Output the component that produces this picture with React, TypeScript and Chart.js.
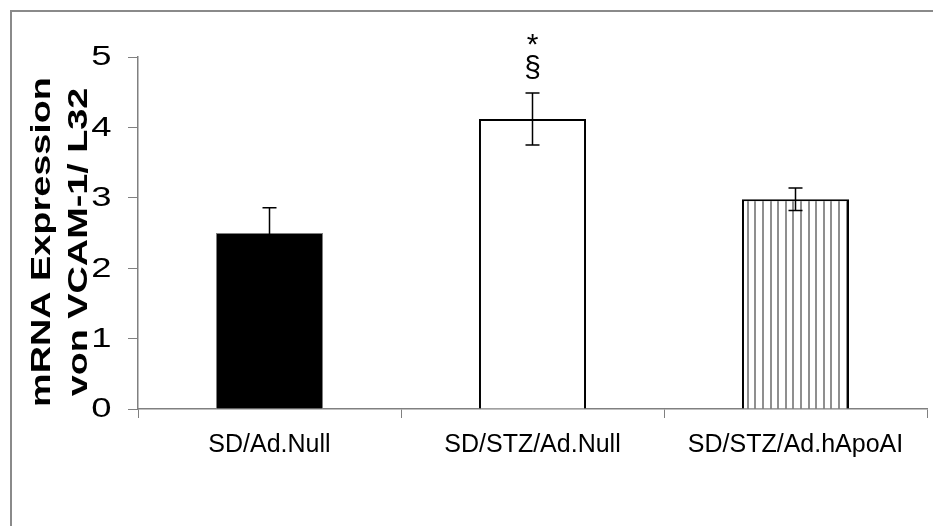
import React, { useEffect, useRef } from "react";
import { Chart, registerables } from "chart.js";

Chart.register(...registerables);

// ---- data ----
const categories = ["SD/Ad.Null", "SD/STZ/Ad.Null", "SD/STZ/Ad.hApoAI"];
const means = [2.5, 4.12, 2.98];
const errors = [0.36, 0.37, 0.16];
const starMarks = ["", "*", ""];
const sectionMarks = ["", "§", ""];
const yTicks = [0, 1, 2, 3, 4, 5];
const titleLines = ["mRNA Expression", "von VCAM-1/ L32"];

const FONT = '"Liberation Sans", Arial, sans-serif';
const AXIS_GRAY = "#808080";

function makeStripePattern(ctx: CanvasRenderingContext2D): CanvasPattern | string {
  const c = document.createElement("canvas");
  c.width = 38;
  c.height = 10;
  const p = c.getContext("2d");
  if (!p) return "#ffffff";
  p.fillStyle = "#ffffff";
  p.fillRect(0, 0, 38, 10);
  p.fillStyle = "#8f8f8f";
  for (let i = 0; i < 5; i++) {
    p.fillRect(Math.round(i * 7.6) + 2, 0, 2, 10);
  }
  const pat = ctx.createPattern(c, "repeat");
  return pat || "#ffffff";
}

const framePlugin = {
  id: "frame",
  beforeDraw(chart: any) {
    const ctx = chart.ctx;
    ctx.save();
    ctx.fillStyle = "#ffffff";
    ctx.fillRect(0, 0, chart.width, chart.height);
    ctx.strokeStyle = "#8a8a8a";
    ctx.lineWidth = 2;
    ctx.strokeRect(11, 11, 3000, 3000);
    ctx.restore();
  },
};

const textPlugin = {
  id: "stretchedText",
  afterDraw(chart: any) {
    const ctx = chart.ctx;
    ctx.save();
    ctx.fillStyle = "#000000";
    // rotated axis title (two lines)
    ctx.font = `bold 28px ${FONT}`;
    ctx.textAlign = "center";
    ctx.textBaseline = "alphabetic";
    const baselines = [50, 86.5];
    titleLines.forEach((t, i) => {
      ctx.save();
      ctx.translate(baselines[i], 242);
      ctx.rotate(-Math.PI / 2);
      ctx.scale(1.35, 1);
      ctx.fillText(t, 0, 0);
      ctx.restore();
    });
    // y tick labels
    const yScale = chart.scales.y;
    ctx.font = `27px ${FONT}`;
    ctx.textAlign = "right";
    ctx.textBaseline = "middle";
    yScale.ticks.forEach((tk: any) => {
      const y = yScale.getPixelForValue(tk.value);
      ctx.save();
      ctx.translate(111.5, y + 1);
      ctx.scale(1.35, 1);
      ctx.fillText(String(tk.value), 0, 0);
      ctx.restore();
    });
    ctx.restore();
  },
};

const errorBarPlugin = {
  id: "errorBars",
  afterDatasetsDraw(chart: any) {
    const ctx = chart.ctx;
    const yScale = chart.scales.y;
    const meta = chart.getDatasetMeta(0);
    ctx.save();
    ctx.strokeStyle = "#000000";
    ctx.lineWidth = 1.5;
    meta.data.forEach((bar: any, i: number) => {
      const x = bar.x;
      const yTop = yScale.getPixelForValue(means[i] + errors[i]);
      const yBot = yScale.getPixelForValue(means[i] - errors[i]);
      ctx.beginPath();
      ctx.moveTo(x, yTop);
      ctx.lineTo(x, yBot);
      ctx.moveTo(x - 7, yTop);
      ctx.lineTo(x + 7, yTop);
      ctx.moveTo(x - 7, yBot);
      ctx.lineTo(x + 7, yBot);
      ctx.stroke();

      ctx.fillStyle = "#000000";
      ctx.textAlign = "center";
      ctx.textBaseline = "alphabetic";
      ctx.font = `30px ${FONT}`;
      const secBase = yTop - 16;
      if (sectionMarks[i]) ctx.fillText(sectionMarks[i], x, secBase);
      if (starMarks[i]) ctx.fillText(starMarks[i], x, secBase - 22.5);
    });
    ctx.restore();
  },
};

export default function App() {
  const canvasRef = useRef<HTMLCanvasElement | null>(null);

  useEffect(() => {
    const canvas = canvasRef.current;
    if (!canvas) return;
    const ctx = canvas.getContext("2d");
    if (!ctx) return;
    const stripes = makeStripePattern(ctx);

    const chart = new Chart(ctx, {
      type: "bar",
      data: {
        labels: categories,
        datasets: [
          {
            data: means,
            backgroundColor: ["#000000", "#ffffff", stripes as any],
            borderColor: ["#808080", "#000000", "#000000"],
            borderWidth: [1, 2, 2],
            barPercentage: 0.407,
            categoryPercentage: 1,
          },
        ],
      },
      options: {
        responsive: false,
        animation: false,
        events: [],
        layout: { padding: { left: 0, top: 57, right: 6, bottom: 0 } },
        plugins: {
          legend: { display: false },
          tooltip: { enabled: false },
          title: { display: false },
        },
        scales: {
          x: {
            offset: true,
            grid: {
              display: true,
              offset: true,
              drawOnChartArea: false,
              drawTicks: true,
              tickLength: 9,
              color: AXIS_GRAY,
              lineWidth: 1,
            },
            border: { display: true, color: AXIS_GRAY, width: 1.5 },
            ticks: {
              color: "#000000",
              font: { family: FONT, size: 25 },
              padding: 12,
              maxRotation: 0,
              autoSkip: false,
            },
            afterFit(scale: any) {
              scale.height = 526 - 409;
            },
          },
          y: {
            min: 0,
            max: 5,
            grid: {
              display: true,
              drawOnChartArea: false,
              drawTicks: true,
              tickLength: 10,
              color: AXIS_GRAY,
              lineWidth: 1,
            },
            border: { display: true, color: AXIS_GRAY, width: 1.5 },
            ticks: {
              display: false,
              color: "#000000",
              font: { family: FONT, size: 27 },
              padding: 16,
            },
            afterBuildTicks(scale: any) {
              scale.ticks = yTicks.map((v) => ({ value: v }));
            },
            afterFit(scale: any) {
              scale.width = 138;
            },
          },
        },
      },
      plugins: [framePlugin, errorBarPlugin, textPlugin],
    });

    return () => {
      chart.destroy();
    };
  }, []);

  return (
    <div style={{ position: "absolute", left: 0, top: 0, width: 933, height: 526 }}>
      <canvas ref={canvasRef} width={933} height={526} style={{ display: "block" }} />
    </div>
  );
}
